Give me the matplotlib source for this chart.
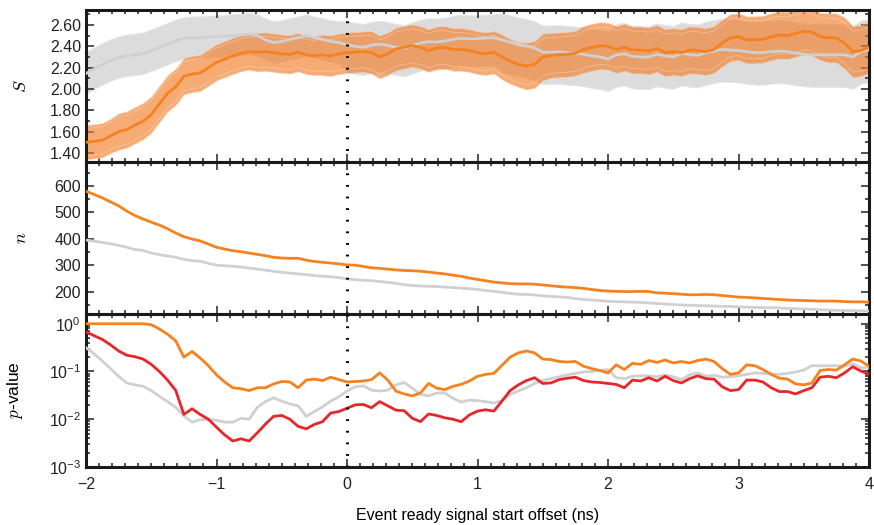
import numpy as np
import matplotlib
matplotlib.use("Agg")
import matplotlib.pyplot as plt
from matplotlib.ticker import MultipleLocator, LogLocator, FormatStrFormatter, NullFormatter

plt.rcParams['font.family'] = ['Liberation Sans', 'DejaVu Sans']
plt.rcParams['mathtext.fontset'] = 'cm'

# start offsets (ns), sampled every 1/16 ns
offset = np.linspace(-2.0, 4.0, 97)

# S statistic: mean with lower / upper band edges
s_orange = [1.50, 1.51, 1.52, 1.56, 1.60, 1.62, 1.66, 1.70, 1.76, 1.86,
            1.96, 2.02, 2.12, 2.14, 2.15, 2.20, 2.25, 2.28, 2.31, 2.335,
            2.35, 2.345, 2.35, 2.34, 2.33, 2.325, 2.345, 2.32, 2.31, 2.32,
            2.31, 2.33, 2.34, 2.344, 2.35, 2.344, 2.30, 2.33, 2.375, 2.39,
            2.406, 2.39, 2.36, 2.385, 2.39, 2.37, 2.37, 2.36, 2.34, 2.33,
            2.345, 2.30, 2.26, 2.23, 2.215, 2.23, 2.30, 2.315, 2.32, 2.325,
            2.335, 2.37, 2.39, 2.405, 2.40, 2.37, 2.39, 2.365, 2.366, 2.356,
            2.38, 2.34, 2.35, 2.34, 2.366, 2.36, 2.35, 2.37, 2.43, 2.48,
            2.49, 2.46, 2.46, 2.465, 2.49, 2.505, 2.50, 2.52, 2.54, 2.535,
            2.49, 2.48, 2.478, 2.43, 2.35, 2.36, 2.39]
s_orange_err = [0.16, 0.16, 0.16, 0.16, 0.17, 0.17, 0.17, 0.17, 0.17, 0.17,
                0.17, 0.17, 0.17, 0.17, 0.17, 0.17, 0.17, 0.17, 0.17, 0.17,
                0.17, 0.18, 0.18, 0.18, 0.18, 0.18, 0.18, 0.18, 0.18, 0.19,
                0.19, 0.19, 0.19, 0.19, 0.19, 0.20, 0.20, 0.20, 0.20, 0.20,
                0.20, 0.20, 0.20, 0.20, 0.20, 0.20, 0.20, 0.20, 0.20, 0.20,
                0.20, 0.21, 0.21, 0.21, 0.22, 0.22, 0.22, 0.21, 0.21, 0.21,
                0.21, 0.22, 0.22, 0.22, 0.22, 0.22, 0.22, 0.22, 0.22, 0.22,
                0.22, 0.22, 0.22, 0.22, 0.22, 0.22, 0.22, 0.22, 0.22, 0.22,
                0.22, 0.22, 0.22, 0.22, 0.22, 0.22, 0.22, 0.22, 0.22, 0.22,
                0.22, 0.23, 0.23, 0.24, 0.24, 0.24, 0.24]
s_grey = [2.145, 2.19, 2.23, 2.265, 2.295, 2.31, 2.32, 2.33, 2.36, 2.39,
          2.42, 2.45, 2.475, 2.48, 2.48, 2.485, 2.49, 2.495, 2.50, 2.505,
          2.515, 2.50, 2.46, 2.435, 2.445, 2.465, 2.48, 2.50, 2.48, 2.465,
          2.445, 2.435, 2.415, 2.40, 2.39, 2.41, 2.42, 2.41, 2.39, 2.38,
          2.405, 2.43, 2.444, 2.44, 2.45, 2.465, 2.475, 2.47, 2.472, 2.477,
          2.48, 2.46, 2.44, 2.42, 2.405, 2.385, 2.345, 2.345, 2.35, 2.34,
          2.335, 2.325, 2.31, 2.30, 2.28, 2.32, 2.33, 2.305, 2.30, 2.30,
          2.325, 2.31, 2.30, 2.335, 2.32, 2.315, 2.34, 2.355, 2.37, 2.365,
          2.36, 2.35, 2.34, 2.34, 2.35, 2.355, 2.35, 2.335, 2.325, 2.32,
          2.32, 2.32, 2.32, 2.32, 2.30, 2.35, 2.365]
s_grey_err_up = [0.20] * 32 + [0.22] * 19 + [0.25] * 14 + [0.29] * 32
s_grey_err_lo = [0.19] * 32 + [0.26] * 19 + [0.30] * 14 + [0.30] * 32

# number of events
n_orange = [580, 568, 555, 540, 525, 505, 488, 475, 463, 452,
            438, 422, 408, 399, 392, 380, 368, 361, 355, 351,
            346, 341, 336, 330, 327, 326, 326, 319, 314, 311,
            308, 305, 301, 300, 295, 290, 288, 285, 282, 280,
            279, 277, 274, 270, 267, 262, 258, 251, 246, 241,
            236, 233, 230, 229, 229, 228, 225, 222, 219, 217,
            215, 212, 208, 204, 202, 201, 200, 200, 201, 200,
            195, 194, 192, 190, 188, 188, 189, 188, 185, 182,
            179, 178, 176, 174, 172, 170, 168, 167, 166, 165,
            164, 164, 164, 162, 161, 161, 160]
n_grey = [395, 391, 386, 381, 375, 368, 359, 356, 346, 340,
          335, 330, 322, 317, 315, 307, 300, 298, 296, 293,
          289, 285, 281, 277, 273, 270, 267, 264, 261, 258,
          256, 253, 248, 245, 243, 241, 238, 235, 231, 226,
          223, 221, 220, 219, 217, 215, 213, 211, 208, 204,
          201, 197, 193, 190, 189, 187, 184, 182, 180, 178,
          173, 170, 168, 166, 163, 162, 161, 160, 159, 157,
          155, 153, 151, 149, 148, 147, 146, 145, 144, 144,
          142, 141, 140, 139, 139, 138, 136, 135, 134, 133,
          131, 130, 129, 128, 128, 127, 127]

# p-values
p_orange = [1.0, 1.0, 1.0, 1.0, 1.0, 1.0, 1.0, 1.0, 0.955, 0.776,
            0.603, 0.437, 0.200, 0.263, 0.191, 0.132, 0.0851, 0.0603, 0.0457, 0.0437,
            0.0398, 0.0457, 0.0457, 0.0550, 0.0617, 0.0603, 0.0457, 0.0661, 0.0692, 0.0646,
            0.0759, 0.0676, 0.0603, 0.0617, 0.0631, 0.0676, 0.0933, 0.0661, 0.0389, 0.0339,
            0.0309, 0.0355, 0.0562, 0.0447, 0.0417, 0.0490, 0.0537, 0.0631, 0.0794, 0.0871,
            0.0912, 0.135, 0.200, 0.245, 0.269, 0.245, 0.182, 0.178, 0.162, 0.158,
            0.162, 0.129, 0.115, 0.105, 0.0933, 0.138, 0.110, 0.148, 0.141, 0.170,
            0.155, 0.174, 0.151, 0.162, 0.151, 0.170, 0.182, 0.162, 0.115, 0.0871,
            0.0933, 0.138, 0.132, 0.110, 0.0871, 0.0724, 0.0692, 0.0550, 0.0525, 0.0575,
            0.105, 0.110, 0.107, 0.138, 0.182, 0.166, 0.129]
p_red = [0.676, 0.562, 0.468, 0.363, 0.269, 0.219, 0.204, 0.182, 0.141, 0.100,
         0.066, 0.040, 0.0126, 0.0166, 0.0126, 0.0100, 0.0068, 0.0047, 0.0035, 0.0039,
         0.0035, 0.0052, 0.0079, 0.0115, 0.0120, 0.0100, 0.0071, 0.0063, 0.0078, 0.0089,
         0.0135, 0.0145, 0.0170, 0.0200, 0.0204, 0.0174, 0.0234, 0.0191, 0.0155, 0.0151,
         0.0105, 0.0089, 0.0129, 0.0120, 0.0107, 0.0100, 0.0089, 0.0123, 0.0148, 0.0158,
         0.0148, 0.0240, 0.0398, 0.0525, 0.0646, 0.0741, 0.0562, 0.0575, 0.0676, 0.0724,
         0.0759, 0.0646, 0.0603, 0.0589, 0.0562, 0.0537, 0.0457, 0.0661, 0.0631, 0.0741,
         0.0631, 0.0794, 0.0646, 0.0575, 0.0708, 0.0813, 0.0708, 0.0692, 0.0479, 0.0398,
         0.0417, 0.0661, 0.0661, 0.0603, 0.0457, 0.0380, 0.0380, 0.0339, 0.0398, 0.0457,
         0.0759, 0.0794, 0.0741, 0.0933, 0.126, 0.102, 0.0891]
p_grey = [0.316, 0.234, 0.166, 0.115, 0.0794, 0.0575, 0.0525, 0.0490, 0.0398, 0.0302,
          0.0234, 0.0178, 0.0117, 0.0087, 0.0098, 0.0100, 0.0095, 0.0087, 0.0087, 0.0105,
          0.0100, 0.0178, 0.0234, 0.0282, 0.0240, 0.0209, 0.0191, 0.0115, 0.0145, 0.0182,
          0.0240, 0.0295, 0.0389, 0.0479, 0.0501, 0.0407, 0.0389, 0.0407, 0.0525, 0.0589,
          0.0447, 0.0331, 0.0309, 0.0355, 0.0355, 0.0275, 0.0229, 0.0251, 0.0245, 0.0234,
          0.0219, 0.0245, 0.0331, 0.0389, 0.0457, 0.0562, 0.0646, 0.0708, 0.0776, 0.0851,
          0.0912, 0.0977, 0.100, 0.105, 0.110, 0.0741, 0.0708, 0.0794, 0.0813, 0.0813,
          0.0776, 0.0851, 0.0776, 0.0676, 0.0851, 0.0933, 0.0794, 0.0832, 0.0759, 0.0776,
          0.0813, 0.0871, 0.0933, 0.0912, 0.0891, 0.0871, 0.0912, 0.0977, 0.107, 0.132,
          0.132, 0.132, 0.132, 0.129, 0.145, 0.120, 0.120]

ORANGE = '#f5821f'
ORANGE_FILL = '#f27f2a'
GREY_LINE = '#cfd0d3'
GREY_FILL = '#dcdcdc'
RED = '#e8262a'

fig = plt.figure(figsize=(8.74, 5.25), dpi=100)
left, right = 86 / 874, 869 / 874
edges = [10, 162, 314, 467]
axes = []
for i in range(3):
    top = 1 - edges[i] / 525
    bot = 1 - edges[i + 1] / 525
    axes.append(fig.add_axes([left, bot, right - left, top - bot]))
ax_s, ax_n, ax_p = axes

x = offset
so, se = np.array(s_orange), np.array(s_orange_err)
sg = np.array(s_grey)
sg_lo = sg - np.array(s_grey_err_lo)
sg_hi = sg + np.array(s_grey_err_up)

ax_s.fill_between(x, sg_lo, sg_hi, color=GREY_FILL, lw=0.6,
                  edgecolor='#e6e6e6', zorder=1)
ax_s.fill_between(x, so - se, so + se, facecolor=ORANGE_FILL, alpha=0.65,
                  edgecolor='#fbd3b5', lw=0.6, zorder=2)
ax_s.plot(x, so - 0.8 * se, color='white', lw=0.5, alpha=0.35, zorder=2)
ax_s.plot(x, so + 0.8 * se, color='white', lw=0.5, alpha=0.35, zorder=2)
ax_s.plot(x, sg, color=GREY_LINE, lw=2, zorder=3)
ax_s.plot(x, so, color=ORANGE, lw=2, zorder=4)
ax_s.set_ylim(1.316, 2.74)
ax_s.yaxis.set_major_locator(MultipleLocator(0.2))
ax_s.yaxis.set_minor_locator(MultipleLocator(0.1))
ax_s.yaxis.set_major_formatter(FormatStrFormatter('%.2f'))
ax_s.set_ylabel('$S$', fontsize=13)

ax_n.plot(x, n_grey, color=GREY_LINE, lw=2, zorder=3)
ax_n.plot(x, n_orange, color=ORANGE, lw=2, zorder=4)
ax_n.set_ylim(115, 691)
ax_n.yaxis.set_major_locator(MultipleLocator(100))
ax_n.yaxis.set_minor_locator(MultipleLocator(50))
ax_n.set_ylabel('$n$', fontsize=13)

ax_p.plot(x, p_grey, color=GREY_LINE, lw=2, zorder=3)
ax_p.plot(x, p_orange, color=ORANGE, lw=2, zorder=4)
ax_p.plot(x, p_red, color=RED, lw=2, zorder=5)
ax_p.set_yscale('log')
ax_p.set_ylim(1e-3, 1.6)
ax_p.yaxis.set_major_locator(LogLocator(base=10, numticks=10))
ax_p.yaxis.set_minor_locator(LogLocator(base=10, subs=np.arange(2, 10), numticks=20))
ax_p.yaxis.set_minor_formatter(NullFormatter())
ax_p.set_ylabel('$p$-value', fontsize=12.5)
ax_p.set_xlabel('Event ready signal start offset (ns)', fontsize=11.5, labelpad=12)

for ax in axes:
    ax.set_xlim(-2, 4)
    ax.axvline(0, color='black', lw=2.2, linestyle=(0, (0.6, 3.2)),
               dash_capstyle='butt', zorder=6)
    ax.xaxis.set_major_locator(MultipleLocator(1))
    ax.xaxis.set_minor_locator(MultipleLocator(0.1))
    ax.tick_params(which='both', direction='in', top=True, right=True,
                   labelsize=11.5, width=1.1, colors='#222222')
    ax.tick_params(which='major', length=6)
    ax.tick_params(which='minor', length=3)
    for sp in ax.spines.values():
        sp.set_linewidth(2.2)
        sp.set_color('#1a1a1a')
    ax.set_facecolor('white')

ax_s.yaxis.set_label_coords(-0.072, 0.5)
ax_n.yaxis.set_label_coords(-0.072, 0.5)
ax_p.yaxis.set_label_coords(-0.078, 0.5)

ax_s.tick_params(labelbottom=False)
ax_n.tick_params(labelbottom=False)
ax_p.set_xticks([-2, -1, 0, 1, 2, 3, 4])
ax_p.set_xticklabels(['\u22122', '\u22121', '0', '1', '2', '3', '4'])
ax_p.tick_params(axis='x', pad=7)

fig.savefig('out.png', dpi=100)
